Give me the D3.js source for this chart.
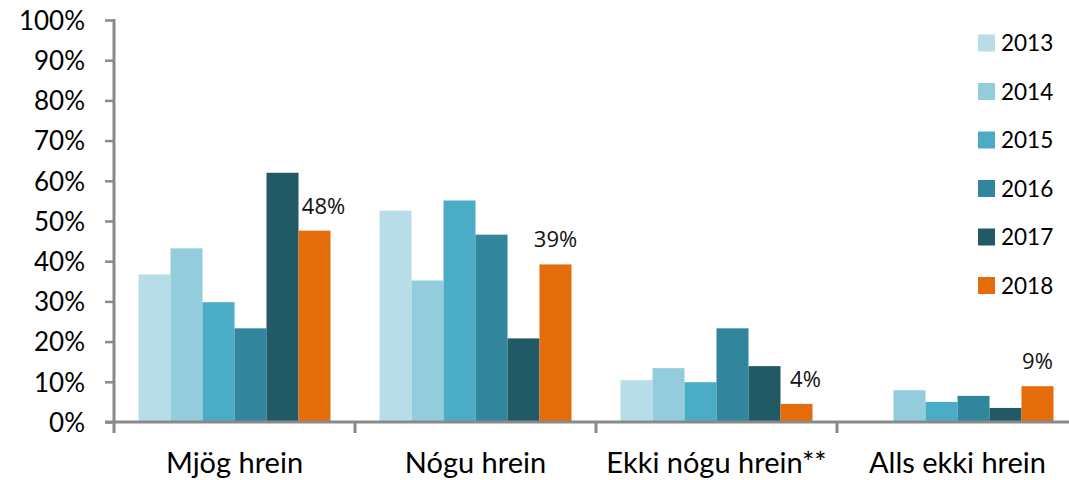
<!DOCTYPE html>
<html>
<head>
<meta charset="utf-8">
<script src="https://cdn.jsdelivr.net/npm/d3@7"></script>
<style>
  html, body { margin: 0; padding: 0; background: #ffffff; }
  svg { display: block; }
</style>
</head>
<body>
<svg id="chart" width="1069" height="480"></svg>
<script>
// ---- data ----
const categories = ["Mjög hrein", "Nógu hrein", "Ekki nógu hrein**", "Alls ekki hrein"];
const years = ["2013", "2014", "2015", "2016", "2017", "2018"];
const v2013 = [36.7, 52.6, 10.4, 0];
const v2014 = [43.2, 35.2, 13.4, 7.9];
const v2015 = [29.8, 55.1, 9.9, 5.0];
const v2016 = [23.3, 46.6, 23.3, 6.5];
const v2017 = [62.0, 20.8, 13.9, 3.5];
const v2018 = [47.6, 39.2, 4.5, 8.9];
const labels2018 = ["48%", "39%", "4%", "9%"];
const yTicks = [0, 10, 20, 30, 40, 50, 60, 70, 80, 90, 100];
const colors = ["#b7dee8", "#93cddd", "#4bacc6", "#31859c", "#215967", "#e46c0a"];

const series = [v2013, v2014, v2015, v2016, v2017, v2018];

// ---- layout ----
const svg = d3.select("#chart");
const axisColor = "#898989";
const x0 = 114, x1 = 1078, yTop = 20, yBase = 422;

const x = d3.scaleBand().domain(categories).range([x0, x1])
  .paddingInner(0.2033).paddingOuter(0.10165);
const xi = d3.scaleBand().domain(years).range([0, x.bandwidth()]).padding(0);
const y = d3.scaleLinear().domain([0, 100]).range([yBase, yTop]);

// bars
const g = svg.append("g");
categories.forEach((c, ci) => {
  years.forEach((yr, si) => {
    const val = series[si][ci];
    if (val <= 0) return;
    g.append("rect")
      .attr("x", x(c) + xi(yr))
      .attr("y", y(val))
      .attr("width", xi.bandwidth())
      .attr("height", y(0) - y(val))
      .attr("fill", colors[si]);
  });
});

// y axis
const yAxis = d3.axisLeft(y).tickValues(yTicks).tickFormat(d => d + "%")
  .tickSize(9).tickPadding(20);
const ya = svg.append("g").attr("transform", `translate(${x0},0)`).call(yAxis);
ya.select(".domain").remove();
ya.selectAll(".tick line").attr("stroke", axisColor).attr("stroke-width", 2.5);
ya.selectAll(".tick text").attr("font-family", "Lato, 'Open Sans', sans-serif")
  .attr("font-size", 26).attr("fill", "#000").attr("dy", "0.36em");
svg.append("line").attr("x1", x0).attr("x2", x0).attr("y1", yTop - 1).attr("y2", yBase + 11)
  .attr("stroke", axisColor).attr("stroke-width", 3);

// x axis
svg.append("line").attr("x1", x0 - 9).attr("x2", x1).attr("y1", yBase).attr("y2", yBase)
  .attr("stroke", axisColor).attr("stroke-width", 3);
const boundaries = categories.map(c => x(c) - x.step() * x.paddingOuter()).slice(1);
boundaries.forEach(b => {
  svg.append("line").attr("x1", b).attr("x2", b).attr("y1", yBase).attr("y2", yBase + 11)
    .attr("stroke", axisColor).attr("stroke-width", 3);
});
categories.forEach(c => {
  svg.append("text")
    .attr("x", x(c) + x.bandwidth() / 2)
    .attr("y", yBase + 51)
    .attr("text-anchor", "middle")
    .attr("font-family", "Lato, 'Open Sans', sans-serif")
    .attr("font-size", 29)
    .attr("fill", "#000")
    .text(c);
});

// data labels for 2018
const labelShift = [9, 0, 9, 0];
categories.forEach((c, ci) => {
  const val = v2018[ci];
  svg.append("text")
    .attr("x", x(c) + xi("2018") + xi.bandwidth() / 2 + labelShift[ci])
    .attr("y", y(val) - 17)
    .attr("text-anchor", "middle")
    .attr("font-family", "'Open Sans', sans-serif")
    .attr("font-size", 22)
    .attr("fill", "#111")
    .text(labels2018[ci]);
});

// legend
const legend = svg.append("g");
years.forEach((yr, i) => {
  const cy = 43 + i * 48.5;
  legend.append("rect").attr("x", 978).attr("y", cy - 8.5).attr("width", 17).attr("height", 17)
    .attr("fill", colors[i]);
  legend.append("text").attr("x", 1001).attr("y", cy + 8)
    .attr("font-family", "Lato, 'Open Sans', sans-serif")
    .attr("font-size", 22.5).attr("fill", "#000").text(yr);
});
</script>
</body>
</html>
